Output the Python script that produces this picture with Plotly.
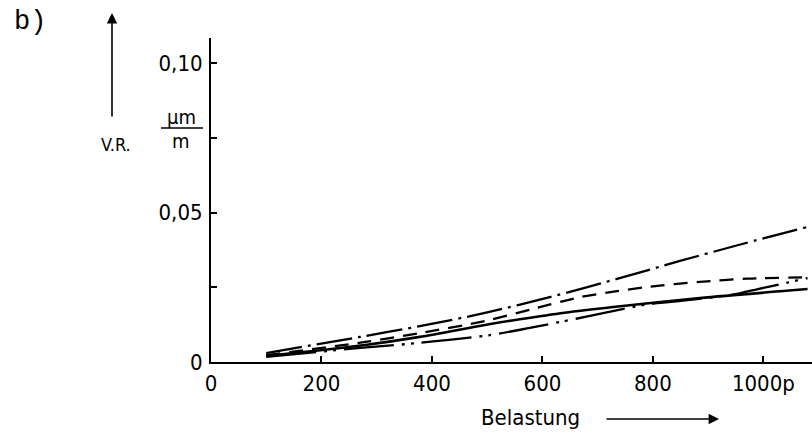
import plotly.graph_objects as go

# Belastung (p) and Verformungsrest V.R. (µm/m) for the four measured curves
last_strichpunkt = [100, 270, 378, 496, 615, 735, 849, 960, 1080]
vr_strichpunkt = [0.0030, 0.0084, 0.0120, 0.0164, 0.0218, 0.0278, 0.0338, 0.0394, 0.0452]

last_gestrichelt = [100, 279, 378, 496, 580, 668, 735, 789, 885, 970, 1080]
vr_gestrichelt = [0.0023, 0.0067, 0.0097, 0.0137, 0.0176, 0.0217, 0.0237, 0.0251, 0.0268, 0.0279, 0.0283]

last_durchgezogen = [100, 279, 378, 496, 559, 640, 728, 885, 1080]
vr_durchgezogen = [0.0020, 0.0057, 0.0084, 0.0124, 0.0143, 0.0165, 0.0184, 0.0214, 0.0244]

last_zweipunkt = [100, 270, 378, 505, 577, 632, 686, 795, 885, 952, 990, 1035, 1080]
vr_zweipunkt = [0.0017, 0.0047, 0.0064, 0.0090, 0.0114, 0.0134, 0.0154, 0.0194, 0.0211, 0.0228, 0.0244, 0.0262, 0.0281]

x_ticks = [0, 200, 400, 600, 800, 1000]
x_ticktext = ["0", "200", "400", "600", "800", "1000p"]
y_ticks = [0, 0.025, 0.05, 0.075, 0.10]
y_ticktext = ["0", "", "0,05", "", "0,10"]

SANS = "DejaVu Sans Condensed, Liberation Sans Narrow, DejaVu Sans, sans-serif"

series = [
    (last_strichpunkt, vr_strichpunkt, "36px,6px,3px,6px", 2.3),
    (last_gestrichelt, vr_gestrichelt, "14px,9px", 2.3),
    (last_durchgezogen, vr_durchgezogen, "solid", 2.6),
    (last_zweipunkt, vr_zweipunkt, "50px,8px,3px,6px,3px,8px", 2.3),
]

fig = go.Figure()
for xs, ys, dash, width in series:
    fig.add_trace(go.Scatter(
        x=xs, y=ys, mode="lines",
        line=dict(color="black", width=width, dash=dash, shape="spline", smoothing=0.8),
        showlegend=False, hoverinfo="skip",
    ))

fig.update_layout(
    width=812, height=433,
    margin=dict(l=211, r=0, t=38, b=71),
    paper_bgcolor="white", plot_bgcolor="white",
    font=dict(family=SANS, color="black"),
    xaxis=dict(
        range=[0, 1088], showgrid=False, zeroline=False,
        showline=True, linecolor="black", linewidth=2,
        ticks="inside", ticklen=6, tickwidth=1.5, tickcolor="black",
        tickvals=x_ticks, ticktext=x_ticktext,
        tickfont=dict(family=SANS, size=22, color="black"),
        ticklabelstandoff=1,
    ),
    yaxis=dict(
        range=[0, 0.1084], showgrid=False, zeroline=False,
        showline=True, linecolor="black", linewidth=2,
        ticks="inside", ticklen=6, tickwidth=1.5, tickcolor="black",
        tickvals=y_ticks, ticktext=y_ticktext,
        tickfont=dict(family=SANS, size=22, color="black"),
        ticklabelstandoff=2,
    ),
)

def px_x(px):
    return (px - 211) / 601.0

def px_y(py):
    return (362 - py) / 324.0

annotations = [
    dict(text="b)", x=px_x(30), y=px_y(22), font=dict(family="Liberation Mono, DejaVu Sans Mono, monospace", size=27)),
    dict(text="V.R.", x=px_x(116), y=px_y(144), font=dict(family=SANS, size=18)),
    dict(text="µm", x=px_x(181), y=px_y(117), font=dict(family=SANS, size=20)),
    dict(text="m", x=px_x(181), y=px_y(141), font=dict(family=SANS, size=20)),
    dict(text="Belastung", x=px_x(530), y=px_y(417), font=dict(family=SANS, size=22)),
]
for a in annotations:
    fig.add_annotation(xref="paper", yref="paper", showarrow=False,
                       xanchor="center", yanchor="middle", **a)

# axis direction arrows
fig.add_annotation(xref="paper", yref="paper", x=px_x(112), y=px_y(13), text="",
                   showarrow=True, axref="pixel", ayref="pixel", ax=0, ay=105,
                   arrowhead=2, arrowsize=1.3, arrowwidth=1.6, arrowcolor="black")
fig.add_annotation(xref="paper", yref="paper", x=px_x(719), y=px_y(419), text="",
                   showarrow=True, axref="pixel", ayref="pixel", ax=-114, ay=0,
                   arrowhead=2, arrowsize=1.3, arrowwidth=1.6, arrowcolor="black")

# fraction bar of the unit µm/m
fig.add_shape(type="line", xref="paper", yref="paper",
              x0=px_x(161), x1=px_x(203), y0=px_y(128), y1=px_y(128),
              line=dict(color="black", width=1.5))

fig.write_html("out.html")
